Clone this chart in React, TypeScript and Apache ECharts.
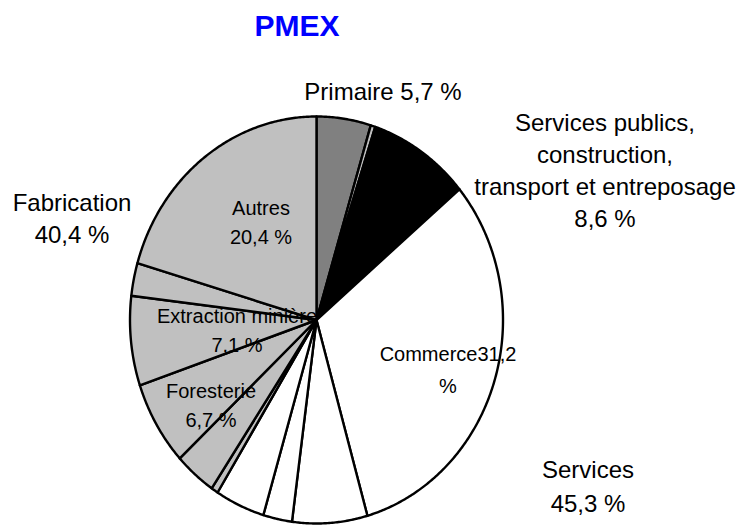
import React, { useEffect, useRef } from "react";
import * as echarts from "echarts";

// Slices, clockwise from 12 o'clock (percent of total)
const sliceNames = [
  "Primaire (a)",
  "Primaire (b)",
  "Services publics, construction, transport et entreposage",
  "Commerce",
  "Services (b)",
  "Services (c)",
  "Services (d)",
  "Fabrication (a)",
  "Fabrication (b)",
  "Foresterie",
  "Extraction minière",
  "Fabrication (c)",
  "Autres",
];
const sliceValues = [4.7, 0.4, 8.8, 31.7, 6.5, 2.5, 4.3, 0.6, 3.6, 6.7, 7.1, 2.6, 20.5];
const sliceColors = [
  "#808080", "#c0c0c0", "#000000", "#ffffff", "#ffffff", "#ffffff", "#ffffff",
  "#c0c0c0", "#c0c0c0", "#c0c0c0", "#c0c0c0", "#c0c0c0", "#c0c0c0",
];

// Group labels (outside the pie)
const groupNames = ["Primaire", "Services publics,\nconstruction,\ntransport et entreposage", "Services", "Fabrication"];
const groupShares = ["5,7 %", "8,6 %", "45,3 %", "40,4 %"];

// Detail labels (inside the pie)
const detailNames = ["Autres", "Extraction minière", "Foresterie", "Commerce"];
const detailShares = ["20,4 %", "7,1 %", "6,7 %", "31,2"];

const FONT = "'Liberation Sans', Arial, Helvetica, sans-serif";

export default function App() {
  const ref = useRef<HTMLDivElement>(null);

  useEffect(() => {
    if (!ref.current) return;
    const chart = echarts.init(ref.current, null, { renderer: "svg" });

    const cx = 316.5;
    const cy = 320;
    const rx = 186.5;
    const ry = 203.5;

    const total = sliceValues.reduce((a, b) => a + b, 0);
    const starts: number[] = [];
    let acc = 0;
    sliceValues.forEach((v) => {
      starts.push(acc);
      acc += v;
    });

    const lines = (
      text: string,
      x: number,
      y0: number,
      lh: number,
      size: number,
      opts: any = {}
    ) =>
      text.split("\n").map((t, i) => ({
        type: "text",
        x,
        y: y0 + i * lh,
        silent: true,
        z: 10,
        style: {
          text: t,
          x: 0,
          y: 0,
          fill: opts.fill || "#000",
          font: `${opts.weight || "normal"} ${size}px ${FONT}`,
          textAlign: "center",
          textVerticalAlign: "middle",
        },
      }));

    const graphics: any[] = [
      ...lines("PMEX", 297, 25, 32, 30, { fill: "#0000ff", weight: "bold" }),
      ...lines(`${groupNames[0]} ${groupShares[0]}`, 383, 91, 32, 24),
      ...lines(`${groupNames[1]}\n${groupShares[1]}`, 605, 122, 32.3, 24),
      ...lines(`${groupNames[2]}\n${groupShares[2]}`, 588, 469, 34, 24),
      ...lines(`${groupNames[3]}\n${groupShares[3]}`, 72, 202, 32.5, 24),
      ...lines(`${detailNames[0]}\n${detailShares[0]}`, 261, 208, 29, 20),
      ...lines(`${detailNames[1]}\n${detailShares[1]}`, 237, 316, 29, 20),
      ...lines(`${detailNames[2]}\n${detailShares[2]}`, 211, 391, 28.5, 20),
      ...lines(`${detailNames[3]}${detailShares[3]}\n%`, 448, 354, 32, 20),
    ];

    chart.setOption({
      animation: false,
      backgroundColor: "#ffffff",
      series: [
        {
          type: "custom",
          coordinateSystem: "none",
          data: sliceValues.map((v, i) => ({ name: sliceNames[i], value: v })),
          renderItem: (params: any, api: any) => {
            const i = params.dataIndex;
            const v = api.value(0);
            const a0 = (starts[i] / total) * Math.PI * 2;
            const a1 = ((starts[i] + v) / total) * Math.PI * 2;
            const n = Math.max(2, Math.ceil(((a1 - a0) * 180) / Math.PI / 0.5));
            const pts: number[][] = [[cx, cy]];
            for (let k = 0; k <= n; k++) {
              const a = a0 + ((a1 - a0) * k) / n;
              pts.push([cx + rx * Math.sin(a), cy - ry * Math.cos(a)]);
            }
            return {
              type: "polygon",
              shape: { points: pts },
              style: {
                fill: sliceColors[i],
                stroke: "#000000",
                lineWidth: 2.4,
                lineJoin: "round",
              },
            };
          },
        },
      ],
      graphic: graphics,
    });

    return () => chart.dispose();
  }, []);

  return (
    <div
      ref={ref}
      style={{ position: "fixed", left: 0, top: 0, width: 752, height: 527 }}
    />
  );
}
